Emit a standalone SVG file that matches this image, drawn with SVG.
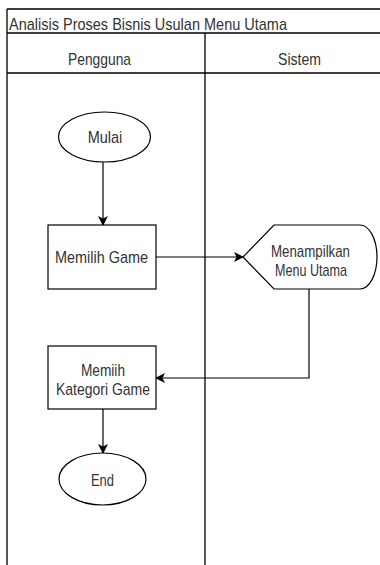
<svg xmlns="http://www.w3.org/2000/svg" width="380" height="565" viewBox="0 0 380 565">
  <defs>
    <style>
      .frame { fill: none; stroke: #000; stroke-width: 1.3; }
      .shape { fill: #fff; stroke: #000; stroke-width: 1.2; }
      .edge { fill: none; stroke: #000; stroke-width: 1.2; }
      text { font-family: "Liberation Sans", Arial, sans-serif; font-size: 17px; fill: #333; }
      .c { text-anchor: middle; }
    </style>
    <marker id="arrow" viewBox="0 0 10 10" refX="9" refY="5" markerWidth="10" markerHeight="10" markerUnits="userSpaceOnUse" orient="auto">
      <path d="M0,0 L10,5 L0,10 L2.5,5 z" fill="#000"/>
    </marker>
  </defs>
  <rect width="380" height="565" fill="#fff"/>
  <g id="pool">
    <line class="frame" x1="7" y1="9" x2="380" y2="9" stroke-width="2"/>
    <line class="frame" x1="7" y1="33" x2="380" y2="33" stroke-width="2"/>
    <line class="frame" x1="7" y1="73" x2="380" y2="73"/>
    <line class="frame" x1="7" y1="9" x2="7" y2="565"/>
    <line class="frame" x1="205" y1="33" x2="205" y2="565"/>
    <text x="9" y="29.5" textLength="278" lengthAdjust="spacingAndGlyphs">Analisis Proses Bisnis Usulan Menu Utama</text>
  </g>
  <g id="lane-pengguna">
    <text class="c" x="99.5" y="65" textLength="63" lengthAdjust="spacingAndGlyphs">Pengguna</text>
  </g>
  <g id="lane-sistem">
    <text class="c" x="299.5" y="65" textLength="43" lengthAdjust="spacingAndGlyphs">Sistem</text>
  </g>
  <g id="connectors">
    <line class="edge" x1="103" y1="162" x2="103" y2="225" marker-end="url(#arrow)"/>
    <line class="edge" x1="156" y1="257" x2="243" y2="257" marker-end="url(#arrow)"/>
    <polyline class="edge" points="309,289 309,378 156,378" marker-end="url(#arrow)"/>
    <line class="edge" x1="103" y1="409" x2="103" y2="453" marker-end="url(#arrow)"/>
  </g>
  <g id="mulai">
    <ellipse class="shape" cx="104.5" cy="137" rx="46" ry="25"/>
    <text class="c" x="105" y="143" textLength="34.5" lengthAdjust="spacingAndGlyphs">Mulai</text>
  </g>
  <g id="memilih-game">
    <rect class="shape" x="48" y="225" width="108" height="64"/>
    <text class="c" x="101.5" y="263" textLength="93" lengthAdjust="spacingAndGlyphs">Memilih Game</text>
  </g>
  <g id="menampilkan-menu">
    <path class="shape" d="M243,257 L274,225 L360,225 A17,32 0 0 1 360,289 L274,289 Z"/>
    <text class="c" x="310.5" y="257" textLength="79" lengthAdjust="spacingAndGlyphs">Menampilkan</text>
    <text class="c" x="311" y="275.5" textLength="72" lengthAdjust="spacingAndGlyphs">Menu Utama</text>
  </g>
  <g id="memilih-kategori">
    <rect class="shape" x="48" y="346" width="108" height="63"/>
    <text class="c" x="103" y="375.5" textLength="44" lengthAdjust="spacingAndGlyphs">Memiih</text>
    <text class="c" x="103" y="394.5" textLength="94" lengthAdjust="spacingAndGlyphs">Kategori Game</text>
  </g>
  <g id="end">
    <ellipse class="shape" cx="102.5" cy="479" rx="43.5" ry="26"/>
    <text class="c" x="102.5" y="485.5" textLength="23" lengthAdjust="spacingAndGlyphs">End</text>
  </g>
</svg>
